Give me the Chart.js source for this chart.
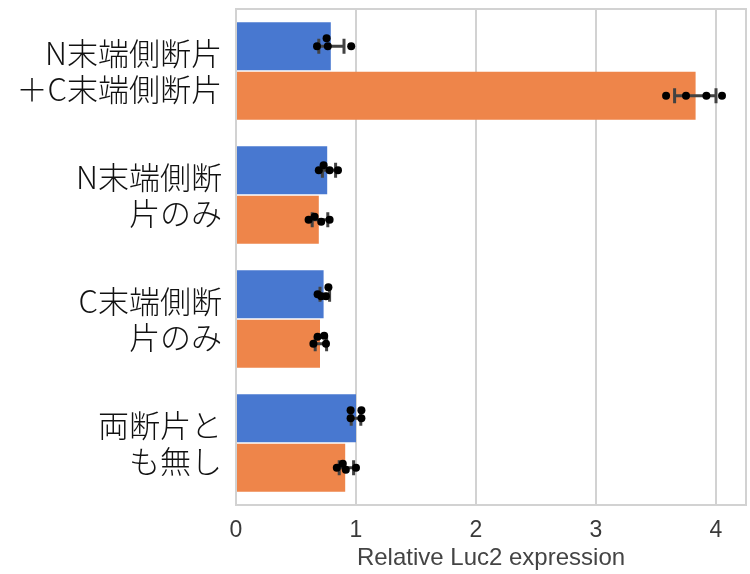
<!DOCTYPE html>
<html>
<head>
<meta charset="utf-8">
<script src="https://cdn.jsdelivr.net/npm/chart.js@4.4.1/dist/chart.umd.min.js"></script>
<style>
  html, body { margin: 0; padding: 0; background: #fff; }
  #wrap { width: 750px; height: 574px; position: relative; }
</style>
</head>
<body>
<div id="wrap"><canvas id="c"></canvas></div>
<script>
// Construct groups (multi-line tick labels)
const categories = [
  ['N末端側断片', '＋C末端側断片'],
  ['N末端側断', '片のみ'],
  ['C末端側断', '片のみ'],
  ['両断片と', 'も無し']
];
const seriesNames = ['condition 1', 'condition 2'];

// Mean relative expression per group
const blueMeans   = [0.79, 0.76, 0.73, 1.00];
const orangeMeans = [3.83, 0.69, 0.70, 0.91];

// Error bar extents [low, high]
const blueCI   = [[0.69, 0.90], [0.72, 0.83], [0.70, 0.78], [0.96, 1.04]];
const orangeCI = [[3.655, 4.00], [0.635, 0.765], [0.66, 0.755], [0.86, 0.98]];

// Individual replicate measurements
const bluePoints = [
  [0.675, 0.755, 0.765, 0.96],
  [0.69, 0.73, 0.78, 0.85],
  [0.68, 0.71, 0.75, 0.77],
  [0.955, 1.045, 0.955, 1.045]
];
const orangePoints = [
  [3.584, 3.75, 3.92, 4.05],
  [0.605, 0.655, 0.71, 0.78],
  [0.645, 0.68, 0.735, 0.75],
  [0.84, 0.89, 0.915, 1.0]
];

const xTicks = [0, 1, 2, 3, 4];
const xTitle = 'Relative Luc2 expression';

// Vertical strip jitter for the replicate dots (pixels)
const STRIP_JITTER = [
  [[0, -8, 0, 0], [0, -5, 0, 0], [0, 2, 2, -7], [-8, -8, 0, 0]],
  [[0, 0, 0, 0], [0, -3, 2, 0], [0, -7, -8, 0], [0, -4, 2, 0]]
];

const GRID = '#d2d2d2';

// Frame around the plotting area
const framePlugin = {
  id: 'frame',
  beforeDatasetsDraw(chart) {
    const { ctx, chartArea: a } = chart;
    ctx.save();
    ctx.strokeStyle = GRID;
    ctx.lineWidth = 2;
    ctx.strokeRect(a.left, a.top, a.right - a.left, a.bottom - a.top);
    ctx.restore();
  }
};

// Error bars and replicate dots on top of the bars
const errorStripPlugin = {
  id: 'errorStrip',
  afterDatasetsDraw(chart) {
    const { ctx } = chart;
    const xs = chart.scales.x;
    const cis = [blueCI, orangeCI];
    const pts = [bluePoints, orangePoints];
    ctx.save();
    for (let d = 0; d < 2; d++) {
      const meta = chart.getDatasetMeta(d);
      meta.data.forEach((bar, i) => {
        const y = bar.y;
        const x0 = xs.getPixelForValue(cis[d][i][0]);
        const x1 = xs.getPixelForValue(cis[d][i][1]);
        ctx.strokeStyle = '#424242';
        ctx.lineWidth = 3;
        ctx.lineCap = 'butt';
        ctx.beginPath();
        ctx.moveTo(x0, y); ctx.lineTo(x1, y);
        ctx.moveTo(x0, y - 7.5); ctx.lineTo(x0, y + 7.5);
        ctx.moveTo(x1, y - 7.5); ctx.lineTo(x1, y + 7.5);
        ctx.stroke();
      });
    }
    for (let d = 0; d < 2; d++) {
      const meta = chart.getDatasetMeta(d);
      meta.data.forEach((bar, i) => {
        pts[d][i].forEach((v, k) => {
          const px = xs.getPixelForValue(v);
          const py = bar.y + STRIP_JITTER[d][i][k];
          ctx.fillStyle = '#000';
          ctx.beginPath();
          ctx.arc(px, py, 4, 0, Math.PI * 2);
          ctx.fill();
        });
      });
    }
    ctx.restore();
  }
};

new Chart(document.getElementById('c'), {
  type: 'bar',
  data: {
    labels: categories,
    datasets: [
      { label: seriesNames[0], data: blueMeans, backgroundColor: '#4878D0' },
      { label: seriesNames[1], data: orangeMeans, backgroundColor: '#EE854A' }
    ]
  },
  options: {
    indexAxis: 'y',
    responsive: true,
    maintainAspectRatio: false,
    animation: false,
    layout: { padding: { top: 9, right: 4, bottom: 0, left: 0 } },
    datasets: { bar: { categoryPercentage: 0.8, barPercentage: 0.97, borderWidth: 0 } },
    plugins: { legend: { display: false }, tooltip: { enabled: false } },
    scales: {
      x: {
        type: 'linear',
        min: 0,
        max: 4.25,
        afterBuildTicks(s) { s.ticks = xTicks.map(v => ({ value: v })); },
        afterFit(s) { s.height = 69; s.paddingLeft = 0; s.paddingRight = 0; },
        grid: { color: GRID, lineWidth: 2, drawTicks: false },
        border: { display: false },
        ticks: {
          padding: 12,
          color: '#3a3a3a',
          font: { family: 'Liberation Sans, Arial, sans-serif', size: 23 }
        },
        title: {
          display: true,
          text: xTitle,
          color: '#444',
          padding: { top: 0, bottom: 1 },
          font: { family: 'Liberation Sans, Arial, sans-serif', size: 24 }
        }
      },
      y: {
        afterFit(s) { s.width = 236; s.paddingTop = 0; s.paddingBottom = 0; },
        grid: { display: false, drawTicks: false },
        border: { display: false },
        ticks: {
          padding: 14,
          color: '#111',
          font: {
            family: '"Noto Sans CJK JP Light", "Noto Sans CJK JP", sans-serif',
            weight: 300,
            size: 31,
            lineHeight: 1.16
          }
        }
      }
    }
  },
  plugins: [framePlugin, errorStripPlugin]
});
</script>
</body>
</html>
